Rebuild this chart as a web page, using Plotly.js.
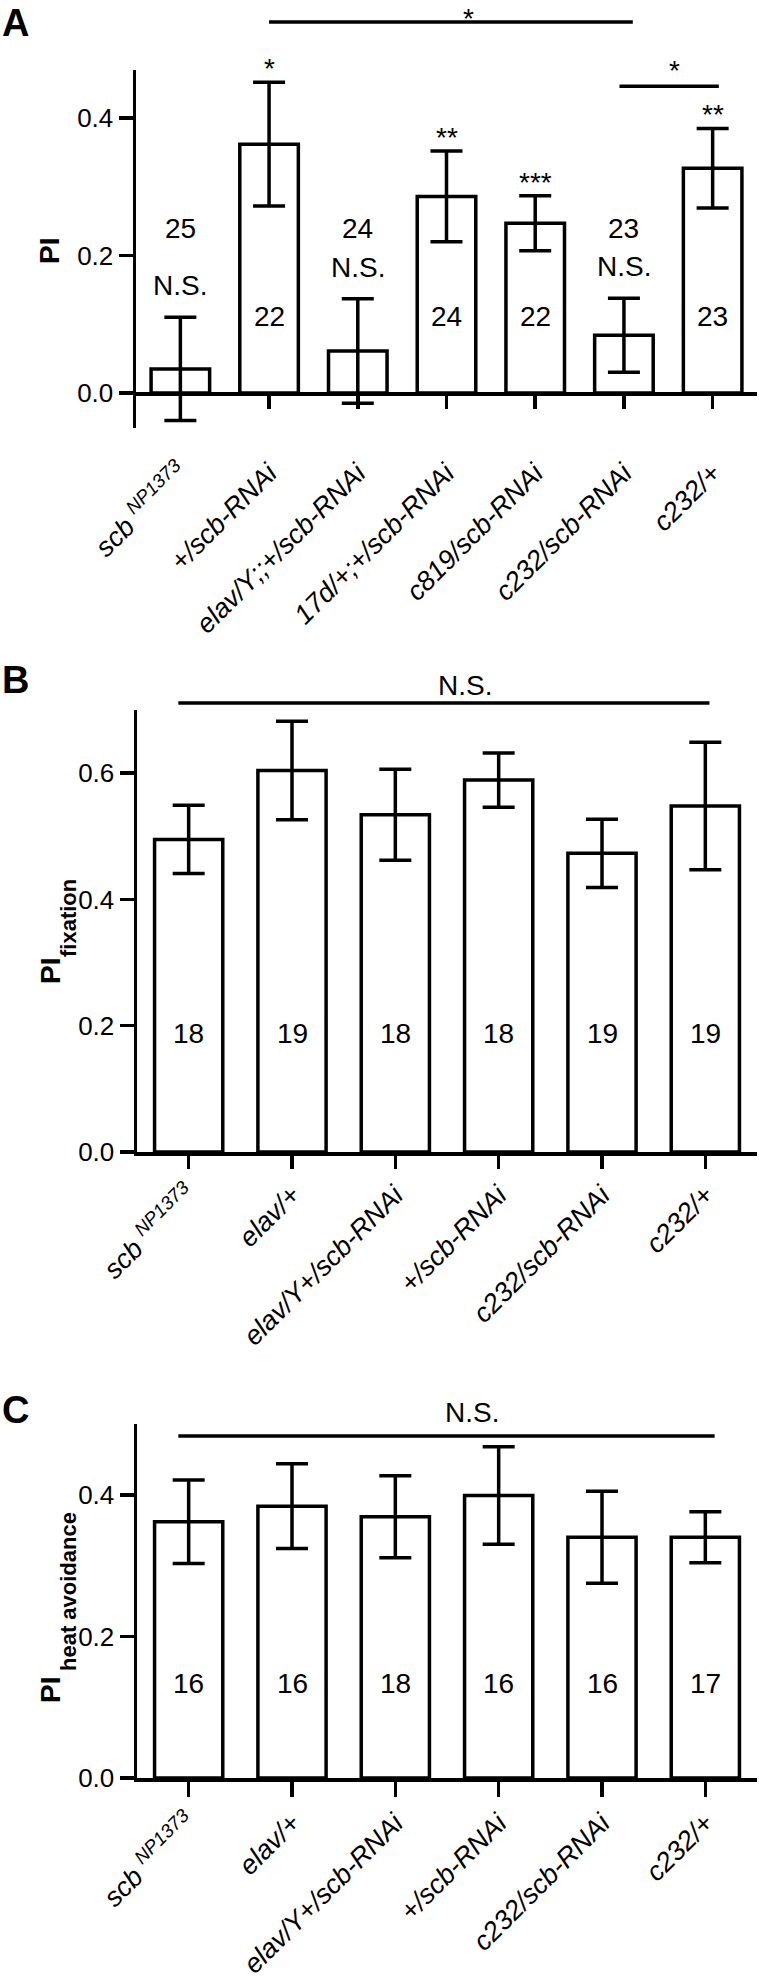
<!DOCTYPE html>
<html>
<head>
<meta charset="utf-8">
<script src="https://cdn.plot.ly/plotly-3.0.1.min.js"></script>
<style>
  html, body { margin: 0; padding: 0; background: #fff; }
  #chart { width: 759px; height: 1981px; }
</style>
</head>
<body>
<div id="chart"></div>
<script>
// ---------------- DATA ----------------
// Panel A
const catsA = ['<i>scb <sup>NP1373</sup></i>', '<i>+/scb-RNAi</i>', '<i>elav/Y;;+/scb-RNAi</i>',
               '<i>17d/+;+/scb-RNAi</i>', '<i>c819/scb-RNAi</i>', '<i>c232/scb-RNAi</i>', '<i>c232/+</i>'];
const valsA = [0.035, 0.362, 0.061, 0.286, 0.247, 0.084, 0.327];
const errsA = [0.075, 0.090, 0.076, 0.066, 0.040, 0.054, 0.058];
const nA    = [25, 22, 24, 24, 22, 23, 23];
const sigA  = ['N.S.', '*', 'N.S.', '**', '***', 'N.S.', '**'];
const tickValsA = [0.0, 0.2, 0.4];
const tickTextA = ['0.0', '0.2', '0.4'];

// Panel B
const catsB = ['<i>scb <sup>NP1373</sup></i>', '<i>elav/+</i>', '<i>elav/Y+/scb-RNAi</i>',
               '<i>+/scb-RNAi</i>', '<i>c232/scb-RNAi</i>', '<i>c232/+</i>'];
const valsB = [0.495, 0.604, 0.534, 0.589, 0.473, 0.548];
const errsB = [0.054, 0.078, 0.072, 0.043, 0.054, 0.101];
const nB    = [18, 19, 18, 18, 19, 19];
const tickValsB = [0.0, 0.2, 0.4, 0.6];
const tickTextB = ['0.0', '0.2', '0.4', '0.6'];

// Panel C
const catsC = ['<i>scb <sup>NP1373</sup></i>', '<i>elav/+</i>', '<i>elav/Y+/scb-RNAi</i>',
               '<i>+/scb-RNAi</i>', '<i>c232/scb-RNAi</i>', '<i>c232/+</i>'];
const valsC = [0.362, 0.384, 0.369, 0.399, 0.340, 0.340];
const errsC = [0.059, 0.060, 0.058, 0.069, 0.065, 0.036];
const nC    = [16, 16, 18, 16, 16, 17];
const tickValsC = [0.0, 0.2, 0.4];
const tickTextC = ['0.0', '0.2', '0.4'];

// Significance brackets: [from category, to category, label]
const bracketsA = [[1, 5.1, '*'], [4.95, 6.07, '*']];
const bracketB  = [-0.1, 5.04, 'N.S.'];
const bracketC  = [-0.1, 5.09, 'N.S.'];

// ---------------- LAYOUT HELPERS ----------------
const W = 759, H = 1981;
const FONT = 'Liberation Sans, Arial, Helvetica, sans-serif';
const LW = 3.5;
const py = p => 1 - p / H;     // pixel y -> paper
const pxx = p => p / W;        // pixel x -> paper

const idx = arr => arr.map((_, i) => i);

function barTrace(vals, errs, xa, ya, width) {
  return {
    type: 'bar', x: idx(vals), y: vals, xaxis: xa, yaxis: ya, width: width,
    marker: { color: 'white', line: { color: 'black', width: LW } },
    error_y: { type: 'data', array: errs, visible: true, color: 'black', thickness: LW, width: 16 },
    hoverinfo: 'none', cliponaxis: false
  };
}

const traces = [
  barTrace(valsA, errsA, 'x', 'y', 0.66),
  barTrace(valsB, errsB, 'x2', 'y2', 0.66),
  barTrace(valsC, errsC, 'x3', 'y3', 0.66)
];

function xAxis(cats, yref, extra) {
  return Object.assign({
    domain: [pxx(137), pxx(757)], range: [-0.5, cats.length - 0.5], anchor: yref,
    showline: true, linecolor: 'black', linewidth: LW, mirror: false,
    ticks: 'outside', ticklen: 14, tickwidth: LW, tickcolor: 'black',
    tickmode: 'array', tickvals: idx(cats), ticktext: cats, tickangle: -45,
    tickfont: { family: FONT, size: 27, color: 'black' },
    showgrid: false, zeroline: false, fixedrange: true
  }, extra || {});
}
function yAxis(top, bottom, range, tv, tt, xref) {
  return {
    domain: [py(bottom), py(top)], range: range, anchor: xref,
    showline: true, linecolor: 'black', linewidth: LW,
    ticks: 'outside', ticklen: 14, tickwidth: LW, tickcolor: 'black',
    tickmode: 'array', tickvals: tv, ticktext: tt,
    tickfont: { family: FONT, size: 26, color: 'black' },
    showgrid: false, zeroline: false, fixedrange: true
  };
}

const annotations = [];
const shapes = [];
function txt(o) {
  annotations.push(Object.assign({ showarrow: false, font: { family: FONT, size: 28, color: 'black' } }, o));
}

// Panel letters
txt({ xref: 'paper', yref: 'paper', x: pxx(0), y: py(23), xanchor: 'left', yanchor: 'middle',
      text: '<b>A</b>', font: { family: FONT, size: 38, color: 'black' } });
txt({ xref: 'paper', yref: 'paper', x: pxx(0), y: py(680), xanchor: 'left', yanchor: 'middle',
      text: '<b>B</b>', font: { family: FONT, size: 38, color: 'black' } });
txt({ xref: 'paper', yref: 'paper', x: pxx(0), y: py(1410), xanchor: 'left', yanchor: 'middle',
      text: '<b>C</b>', font: { family: FONT, size: 38, color: 'black' } });

// Y-axis titles
function ytitle(xc, yc, sub, xsub, ysub) {
  txt({ xref: 'paper', yref: 'paper', x: pxx(xc), y: py(yc), xanchor: 'center', yanchor: 'middle',
        textangle: -90, text: '<b>PI</b>', font: { family: FONT, size: 28, color: 'black' } });
  if (sub) {
    txt({ xref: 'paper', yref: 'paper', x: pxx(xsub), y: py(ysub), xanchor: 'center', yanchor: 'middle',
          textangle: -90, text: '<b>' + sub + '</b>', font: { family: FONT, size: 22, color: 'black' } });
  }
}
ytitle(50, 251);
ytitle(50, 971, 'fixation', 68, 918);
ytitle(50, 1690, 'heat avoidance', 68, 1592);

// Panel A annotations
valsA.forEach((v, i) => {
  const top = v + errsA[i];
  if (sigA[i] === 'N.S.') {
    txt({ xref: 'x', yref: 'y', x: i, y: 0.240, text: String(nA[i]), yanchor: 'middle' });
    txt({ xref: 'x', yref: 'y', x: i, y: top + 0.046, text: 'N.S.', yanchor: 'middle' });
  } else {
    txt({ xref: 'x', yref: 'y', x: i, y: 0.112, text: String(nA[i]), yanchor: 'middle' });
    txt({ xref: 'x', yref: 'y', x: i, y: top, text: sigA[i], yanchor: 'bottom', yshift: -4 });
  }
});
// Brackets A
shapes.push({ type: 'line', xref: 'x', yref: 'paper', x0: bracketsA[0][0], x1: bracketsA[0][1],
              y0: py(22), y1: py(22), line: { color: 'black', width: LW } });
txt({ xref: 'x', yref: 'paper', x: 3.25, y: py(1), yanchor: 'top', text: bracketsA[0][2] });
shapes.push({ type: 'line', xref: 'x', yref: 'y', x0: bracketsA[1][0], x1: bracketsA[1][1],
              y0: 0.4465, y1: 0.4465, line: { color: 'black', width: LW } });
txt({ xref: 'x', yref: 'y', x: 5.57, y: 0.4465, yanchor: 'bottom', yshift: -2, text: bracketsA[1][2] });

// Panel B annotations
nB.forEach((n, i) => txt({ xref: 'x2', yref: 'y2', x: i, y: 0.188, text: String(n), yanchor: 'middle' }));
shapes.push({ type: 'line', xref: 'x2', yref: 'paper', x0: bracketB[0], x1: bracketB[1],
              y0: py(703), y1: py(703), line: { color: 'black', width: LW } });
txt({ xref: 'x2', yref: 'paper', x: 2.67, y: py(685), yanchor: 'middle', text: bracketB[2] });

// Panel C annotations
nC.forEach((n, i) => txt({ xref: 'x3', yref: 'y3', x: i, y: 0.134, text: String(n), yanchor: 'middle' }));
shapes.push({ type: 'line', xref: 'x3', yref: 'paper', x0: bracketC[0], x1: bracketC[1],
              y0: py(1436), y1: py(1436), line: { color: 'black', width: LW } });
txt({ xref: 'x3', yref: 'paper', x: 2.74, y: py(1412), yanchor: 'middle', text: bracketC[2] });

const layout = {
  width: W, height: H,
  margin: { l: 0, r: 0, t: 0, b: 0, pad: 0 },
  paper_bgcolor: 'white', plot_bgcolor: 'rgba(0,0,0,0)',
  showlegend: false,
  font: { family: FONT, color: 'black' },
  xaxis:  xAxis(catsA, 'free', { position: py(393), domain: [pxx(136), pxx(757)], ticklen: 13, ticklabelstandoff: 38 }),
  yaxis:  yAxis(70, 428, [-0.051, 0.47], tickValsA, tickTextA, 'x'),
  xaxis2: xAxis(catsB, 'y2', { ticklen: 13 }),
  yaxis2: yAxis(710, 1152, [0, 0.7], tickValsB, tickTextB, 'x2'),
  xaxis3: xAxis(catsC, 'y3', { ticklen: 15 }),
  yaxis3: yAxis(1424, 1778, [0, 0.5], tickValsC, tickTextC, 'x3'),
  annotations: annotations,
  shapes: shapes
};

Plotly.newPlot('chart', traces, layout, { staticPlot: true, displayModeBar: false });
</script>
</body>
</html>
